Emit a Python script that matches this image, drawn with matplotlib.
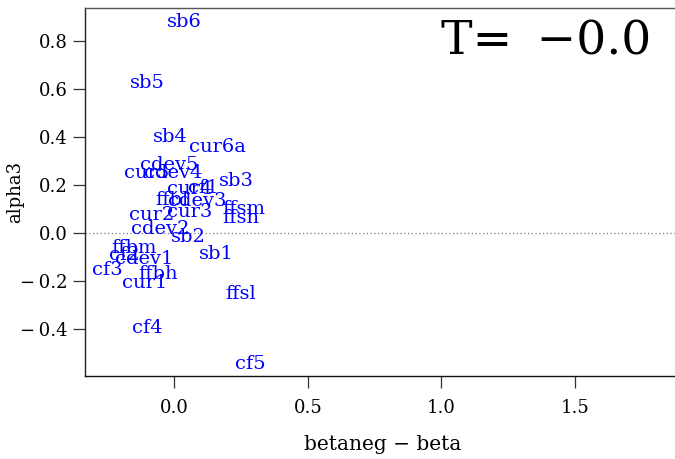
import matplotlib
matplotlib.use("Agg")
import matplotlib.pyplot as plt

labels = ["sb6", "sb5", "sb4", "cur6a", "cdev5", "cur5", "cdev4", "cur4", "cf1", "sb3",
          "ffbl", "cdev3", "cur3", "cur2", "ffsm", "ffsh", "cdev2", "sb2", "ffbm", "cf2",
          "cdev1", "sb1", "cf3", "ffbh", "cur1", "ffsl", "cf4", "cf5"]
xvals = [0.040, -0.101, -0.013, 0.164, -0.019, -0.103, -0.002, 0.058, 0.108, 0.234,
         -0.008, 0.086, 0.059, -0.083, 0.260, 0.250, -0.051, 0.053, -0.150, -0.187,
         -0.113, 0.159, -0.248, -0.060, -0.110, 0.250, -0.101, 0.284]
yvals = [0.878, 0.624, 0.399, 0.357, 0.282, 0.250, 0.250, 0.182, 0.186, 0.217,
         0.136, 0.133, 0.0875, 0.074, 0.099, 0.061, 0.014, -0.019, -0.064, -0.093,
         -0.110, -0.089, -0.155, -0.172, -0.208, -0.255, -0.397, -0.547]

xticks = [0.0, 0.5, 1.0, 1.5]
yticks = [-0.4, -0.2, 0.0, 0.2, 0.4, 0.6, 0.8]

plt.rcParams['font.family'] = ['DejaVu Serif']

W, H = 675, 459
fig = plt.figure(figsize=(W / 100, H / 100), dpi=100)
L, R, T, B = 85.3, 680, 7.7, 376
ax = fig.add_axes([L / W, 1 - B / H, (R - L) / W, (B - T) / H])

ax.set_xlim(-0.332, 1.892)
ax.set_ylim(-0.597, 0.9375)

for lab, x, y in zip(labels, xvals, yvals):
    ax.text(x, y, lab, color='#0000ff', fontsize=14, ha='center', va='center')

ax.axhline(0, color='#777777', linestyle=(0, (1, 2)), linewidth=0.9)

ax.set_xticks(xticks)
ax.set_xticklabels([f"{v:.1f}" for v in xticks])
ax.set_yticks(yticks)
ax.set_yticklabels([("\u2212\u2009" + f"{abs(v):.1f}") if v < 0 else f"{v:.1f}" for v in yticks])
ax.tick_params(axis='both', labelsize=13, length=8.5, width=0.9, color='#333333')
ax.tick_params(axis='x', pad=8)
ax.tick_params(axis='y', pad=4)

for s in ['top', 'left', 'bottom']:
    ax.spines[s].set_linewidth(1.0)
ax.spines['top'].set_color('#555555')
ax.spines['left'].set_color('#222222')
ax.spines['bottom'].set_color('#111111')
ax.spines['right'].set_visible(False)

ax.set_xlabel("betaneg \u2212 beta", fontsize=14.5)
ax.set_ylabel("alpha3", fontsize=13)
ax.xaxis.set_label_coords((382.6 - L) / (R - L), (B - 445) / (B - T))
ax.xaxis.label.set_va('center')
ax.yaxis.set_label_coords((15 - L) / (R - L), 0.5)
ax.yaxis.label.set_va('center')

fig.text(651.7 / W, 1 - 41.7 / H, "T= \u2009\u22120.0", fontsize=34, ha='right', va='center')

fig.savefig("out.png", dpi=100)
